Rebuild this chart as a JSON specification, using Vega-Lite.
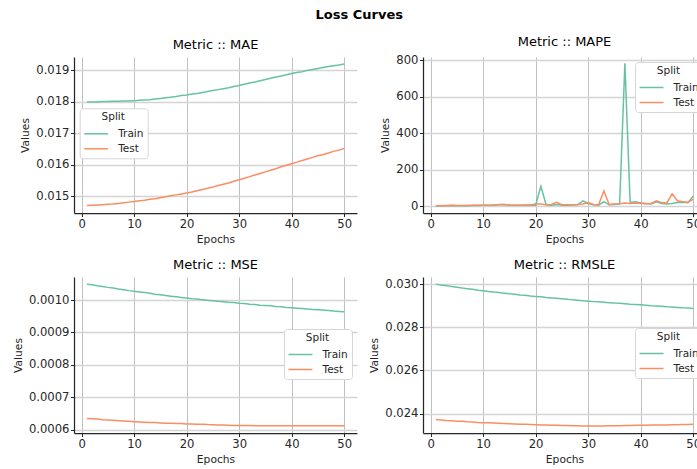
{
  "$schema": "https://vega.github.io/schema/vega-lite/v6.json",
  "padding": {"left": 12, "top": 9, "right": 0, "bottom": 5},
  "background": "white",
  "title": {"text": "Loss Curves", "fontSize": 13, "fontWeight": "bold", "anchor": "middle", "offset": 14, "color": "#000000", "font": "DejaVu Sans"},
  "datasets": {
    "loss": [
      {"metric":"MAE","epoch":1,"Train":0.01800,"Test":0.01471},
      {"metric":"MAE","epoch":2,"Train":0.01800,"Test":0.01472},
      {"metric":"MAE","epoch":3,"Train":0.01800,"Test":0.01473},
      {"metric":"MAE","epoch":4,"Train":0.01801,"Test":0.01474},
      {"metric":"MAE","epoch":5,"Train":0.01801,"Test":0.01475},
      {"metric":"MAE","epoch":6,"Train":0.01802,"Test":0.01476},
      {"metric":"MAE","epoch":7,"Train":0.01802,"Test":0.01478},
      {"metric":"MAE","epoch":8,"Train":0.01803,"Test":0.01480},
      {"metric":"MAE","epoch":9,"Train":0.01803,"Test":0.01482},
      {"metric":"MAE","epoch":10,"Train":0.01804,"Test":0.01484},
      {"metric":"MAE","epoch":11,"Train":0.01805,"Test":0.01486},
      {"metric":"MAE","epoch":12,"Train":0.01806,"Test":0.01488},
      {"metric":"MAE","epoch":13,"Train":0.01807,"Test":0.01491},
      {"metric":"MAE","epoch":14,"Train":0.01809,"Test":0.01493},
      {"metric":"MAE","epoch":15,"Train":0.01811,"Test":0.01496},
      {"metric":"MAE","epoch":16,"Train":0.01813,"Test":0.01499},
      {"metric":"MAE","epoch":17,"Train":0.01815,"Test":0.01502},
      {"metric":"MAE","epoch":18,"Train":0.01817,"Test":0.01505},
      {"metric":"MAE","epoch":19,"Train":0.01820,"Test":0.01508},
      {"metric":"MAE","epoch":20,"Train":0.01822,"Test":0.01511},
      {"metric":"MAE","epoch":21,"Train":0.01825,"Test":0.01514},
      {"metric":"MAE","epoch":22,"Train":0.01827,"Test":0.01518},
      {"metric":"MAE","epoch":23,"Train":0.01830,"Test":0.01522},
      {"metric":"MAE","epoch":24,"Train":0.01833,"Test":0.01526},
      {"metric":"MAE","epoch":25,"Train":0.01836,"Test":0.01530},
      {"metric":"MAE","epoch":26,"Train":0.01839,"Test":0.01535},
      {"metric":"MAE","epoch":27,"Train":0.01842,"Test":0.01539},
      {"metric":"MAE","epoch":28,"Train":0.01845,"Test":0.01543},
      {"metric":"MAE","epoch":29,"Train":0.01849,"Test":0.01548},
      {"metric":"MAE","epoch":30,"Train":0.01852,"Test":0.01553},
      {"metric":"MAE","epoch":31,"Train":0.01856,"Test":0.01558},
      {"metric":"MAE","epoch":32,"Train":0.01860,"Test":0.01563},
      {"metric":"MAE","epoch":33,"Train":0.01863,"Test":0.01568},
      {"metric":"MAE","epoch":34,"Train":0.01867,"Test":0.01573},
      {"metric":"MAE","epoch":35,"Train":0.01871,"Test":0.01578},
      {"metric":"MAE","epoch":36,"Train":0.01875,"Test":0.01583},
      {"metric":"MAE","epoch":37,"Train":0.01879,"Test":0.01588},
      {"metric":"MAE","epoch":38,"Train":0.01882,"Test":0.01594},
      {"metric":"MAE","epoch":39,"Train":0.01886,"Test":0.01599},
      {"metric":"MAE","epoch":40,"Train":0.01890,"Test":0.01604},
      {"metric":"MAE","epoch":41,"Train":0.01893,"Test":0.01609},
      {"metric":"MAE","epoch":42,"Train":0.01896,"Test":0.01614},
      {"metric":"MAE","epoch":43,"Train":0.01900,"Test":0.01619},
      {"metric":"MAE","epoch":44,"Train":0.01903,"Test":0.01624},
      {"metric":"MAE","epoch":45,"Train":0.01906,"Test":0.01629},
      {"metric":"MAE","epoch":46,"Train":0.01909,"Test":0.01633},
      {"metric":"MAE","epoch":47,"Train":0.01912,"Test":0.01638},
      {"metric":"MAE","epoch":48,"Train":0.01915,"Test":0.01643},
      {"metric":"MAE","epoch":49,"Train":0.01917,"Test":0.01647},
      {"metric":"MAE","epoch":50,"Train":0.01920,"Test":0.01652},
      {"metric":"MAPE","epoch":1,"Train":2,"Test":3},
      {"metric":"MAPE","epoch":2,"Train":3,"Test":3},
      {"metric":"MAPE","epoch":3,"Train":3,"Test":4},
      {"metric":"MAPE","epoch":4,"Train":4,"Test":5},
      {"metric":"MAPE","epoch":5,"Train":3,"Test":4},
      {"metric":"MAPE","epoch":6,"Train":3,"Test":4},
      {"metric":"MAPE","epoch":7,"Train":3,"Test":4},
      {"metric":"MAPE","epoch":8,"Train":4,"Test":5},
      {"metric":"MAPE","epoch":9,"Train":4,"Test":5},
      {"metric":"MAPE","epoch":10,"Train":5,"Test":6},
      {"metric":"MAPE","epoch":11,"Train":5,"Test":6},
      {"metric":"MAPE","epoch":12,"Train":6,"Test":7},
      {"metric":"MAPE","epoch":13,"Train":8,"Test":9},
      {"metric":"MAPE","epoch":14,"Train":9,"Test":10},
      {"metric":"MAPE","epoch":15,"Train":6,"Test":7},
      {"metric":"MAPE","epoch":16,"Train":5,"Test":6},
      {"metric":"MAPE","epoch":17,"Train":5,"Test":6},
      {"metric":"MAPE","epoch":18,"Train":6,"Test":7},
      {"metric":"MAPE","epoch":19,"Train":5,"Test":7},
      {"metric":"MAPE","epoch":20,"Train":6,"Test":12},
      {"metric":"MAPE","epoch":21,"Train":110,"Test":12},
      {"metric":"MAPE","epoch":22,"Train":8,"Test":8},
      {"metric":"MAPE","epoch":23,"Train":6,"Test":10},
      {"metric":"MAPE","epoch":24,"Train":10,"Test":22},
      {"metric":"MAPE","epoch":25,"Train":6,"Test":8},
      {"metric":"MAPE","epoch":26,"Train":6,"Test":8},
      {"metric":"MAPE","epoch":27,"Train":7,"Test":8},
      {"metric":"MAPE","epoch":28,"Train":8,"Test":9},
      {"metric":"MAPE","epoch":29,"Train":30,"Test":12},
      {"metric":"MAPE","epoch":30,"Train":15,"Test":20},
      {"metric":"MAPE","epoch":31,"Train":8,"Test":10},
      {"metric":"MAPE","epoch":32,"Train":6,"Test":8},
      {"metric":"MAPE","epoch":33,"Train":25,"Test":85},
      {"metric":"MAPE","epoch":34,"Train":8,"Test":10},
      {"metric":"MAPE","epoch":35,"Train":10,"Test":12},
      {"metric":"MAPE","epoch":36,"Train":12,"Test":14},
      {"metric":"MAPE","epoch":37,"Train":785,"Test":18},
      {"metric":"MAPE","epoch":38,"Train":20,"Test":15},
      {"metric":"MAPE","epoch":39,"Train":25,"Test":18},
      {"metric":"MAPE","epoch":40,"Train":18,"Test":16},
      {"metric":"MAPE","epoch":41,"Train":15,"Test":14},
      {"metric":"MAPE","epoch":42,"Train":12,"Test":15},
      {"metric":"MAPE","epoch":43,"Train":25,"Test":30},
      {"metric":"MAPE","epoch":44,"Train":15,"Test":20},
      {"metric":"MAPE","epoch":45,"Train":12,"Test":18},
      {"metric":"MAPE","epoch":46,"Train":15,"Test":68},
      {"metric":"MAPE","epoch":47,"Train":20,"Test":30},
      {"metric":"MAPE","epoch":48,"Train":22,"Test":25},
      {"metric":"MAPE","epoch":49,"Train":20,"Test":22},
      {"metric":"MAPE","epoch":50,"Train":55,"Test":38},
      {"metric":"MSE","epoch":1,"Train":0.001049,"Test":0.000635},
      {"metric":"MSE","epoch":2,"Train":0.001047,"Test":0.000634},
      {"metric":"MSE","epoch":3,"Train":0.001044,"Test":0.000633},
      {"metric":"MSE","epoch":4,"Train":0.001042,"Test":0.000631},
      {"metric":"MSE","epoch":5,"Train":0.001039,"Test":0.000630},
      {"metric":"MSE","epoch":6,"Train":0.001037,"Test":0.000629},
      {"metric":"MSE","epoch":7,"Train":0.001034,"Test":0.000628},
      {"metric":"MSE","epoch":8,"Train":0.001032,"Test":0.000627},
      {"metric":"MSE","epoch":9,"Train":0.001029,"Test":0.000626},
      {"metric":"MSE","epoch":10,"Train":0.001027,"Test":0.000625},
      {"metric":"MSE","epoch":11,"Train":0.001025,"Test":0.000624},
      {"metric":"MSE","epoch":12,"Train":0.001023,"Test":0.000623},
      {"metric":"MSE","epoch":13,"Train":0.001021,"Test":0.000622},
      {"metric":"MSE","epoch":14,"Train":0.001018,"Test":0.000622},
      {"metric":"MSE","epoch":15,"Train":0.001016,"Test":0.000621},
      {"metric":"MSE","epoch":16,"Train":0.001014,"Test":0.000620},
      {"metric":"MSE","epoch":17,"Train":0.001012,"Test":0.000620},
      {"metric":"MSE","epoch":18,"Train":0.001010,"Test":0.000619},
      {"metric":"MSE","epoch":19,"Train":0.001008,"Test":0.000619},
      {"metric":"MSE","epoch":20,"Train":0.001006,"Test":0.000618},
      {"metric":"MSE","epoch":21,"Train":0.001004,"Test":0.000618},
      {"metric":"MSE","epoch":22,"Train":0.001003,"Test":0.000617},
      {"metric":"MSE","epoch":23,"Train":0.001001,"Test":0.000617},
      {"metric":"MSE","epoch":24,"Train":0.000999,"Test":0.000616},
      {"metric":"MSE","epoch":25,"Train":0.000998,"Test":0.0006155},
      {"metric":"MSE","epoch":26,"Train":0.000996,"Test":0.000615},
      {"metric":"MSE","epoch":27,"Train":0.000995,"Test":0.0006145},
      {"metric":"MSE","epoch":28,"Train":0.000993,"Test":0.000614},
      {"metric":"MSE","epoch":29,"Train":0.000992,"Test":0.0006135},
      {"metric":"MSE","epoch":30,"Train":0.000990,"Test":0.000613},
      {"metric":"MSE","epoch":31,"Train":0.000989,"Test":0.000613},
      {"metric":"MSE","epoch":32,"Train":0.000987,"Test":0.000613},
      {"metric":"MSE","epoch":33,"Train":0.000986,"Test":0.0006125},
      {"metric":"MSE","epoch":34,"Train":0.000984,"Test":0.0006125},
      {"metric":"MSE","epoch":35,"Train":0.000983,"Test":0.000612},
      {"metric":"MSE","epoch":36,"Train":0.000982,"Test":0.000612},
      {"metric":"MSE","epoch":37,"Train":0.000980,"Test":0.000612},
      {"metric":"MSE","epoch":38,"Train":0.000979,"Test":0.000612},
      {"metric":"MSE","epoch":39,"Train":0.000977,"Test":0.000612},
      {"metric":"MSE","epoch":40,"Train":0.000976,"Test":0.000612},
      {"metric":"MSE","epoch":41,"Train":0.000975,"Test":0.000612},
      {"metric":"MSE","epoch":42,"Train":0.000974,"Test":0.000612},
      {"metric":"MSE","epoch":43,"Train":0.000972,"Test":0.000612},
      {"metric":"MSE","epoch":44,"Train":0.000971,"Test":0.000612},
      {"metric":"MSE","epoch":45,"Train":0.000970,"Test":0.000612},
      {"metric":"MSE","epoch":46,"Train":0.000969,"Test":0.000612},
      {"metric":"MSE","epoch":47,"Train":0.000968,"Test":0.000612},
      {"metric":"MSE","epoch":48,"Train":0.000966,"Test":0.000612},
      {"metric":"MSE","epoch":49,"Train":0.000965,"Test":0.000612},
      {"metric":"MSE","epoch":50,"Train":0.000964,"Test":0.000612},
      {"metric":"RMSLE","epoch":1,"Train":0.03000,"Test":0.02372},
      {"metric":"RMSLE","epoch":2,"Train":0.02996,"Test":0.02370},
      {"metric":"RMSLE","epoch":3,"Train":0.02993,"Test":0.02368},
      {"metric":"RMSLE","epoch":4,"Train":0.02989,"Test":0.02367},
      {"metric":"RMSLE","epoch":5,"Train":0.02986,"Test":0.02365},
      {"metric":"RMSLE","epoch":6,"Train":0.02982,"Test":0.02364},
      {"metric":"RMSLE","epoch":7,"Train":0.02979,"Test":0.02362},
      {"metric":"RMSLE","epoch":8,"Train":0.02976,"Test":0.02361},
      {"metric":"RMSLE","epoch":9,"Train":0.02972,"Test":0.02359},
      {"metric":"RMSLE","epoch":10,"Train":0.02969,"Test":0.02358},
      {"metric":"RMSLE","epoch":11,"Train":0.02966,"Test":0.02357},
      {"metric":"RMSLE","epoch":12,"Train":0.02963,"Test":0.02356},
      {"metric":"RMSLE","epoch":13,"Train":0.02961,"Test":0.02355},
      {"metric":"RMSLE","epoch":14,"Train":0.02958,"Test":0.02354},
      {"metric":"RMSLE","epoch":15,"Train":0.02955,"Test":0.02353},
      {"metric":"RMSLE","epoch":16,"Train":0.02953,"Test":0.02352},
      {"metric":"RMSLE","epoch":17,"Train":0.02950,"Test":0.02351},
      {"metric":"RMSLE","epoch":18,"Train":0.02948,"Test":0.02350},
      {"metric":"RMSLE","epoch":19,"Train":0.02945,"Test":0.02349},
      {"metric":"RMSLE","epoch":20,"Train":0.02943,"Test":0.02348},
      {"metric":"RMSLE","epoch":21,"Train":0.02941,"Test":0.023475},
      {"metric":"RMSLE","epoch":22,"Train":0.02938,"Test":0.02347},
      {"metric":"RMSLE","epoch":23,"Train":0.02936,"Test":0.02346},
      {"metric":"RMSLE","epoch":24,"Train":0.02934,"Test":0.023455},
      {"metric":"RMSLE","epoch":25,"Train":0.02932,"Test":0.02345},
      {"metric":"RMSLE","epoch":26,"Train":0.02930,"Test":0.023445},
      {"metric":"RMSLE","epoch":27,"Train":0.02927,"Test":0.02344},
      {"metric":"RMSLE","epoch":28,"Train":0.02925,"Test":0.023435},
      {"metric":"RMSLE","epoch":29,"Train":0.02923,"Test":0.02343},
      {"metric":"RMSLE","epoch":30,"Train":0.02921,"Test":0.02343},
      {"metric":"RMSLE","epoch":31,"Train":0.02919,"Test":0.02343},
      {"metric":"RMSLE","epoch":32,"Train":0.02918,"Test":0.02343},
      {"metric":"RMSLE","epoch":33,"Train":0.02916,"Test":0.02343},
      {"metric":"RMSLE","epoch":34,"Train":0.02914,"Test":0.023435},
      {"metric":"RMSLE","epoch":35,"Train":0.02912,"Test":0.02344},
      {"metric":"RMSLE","epoch":36,"Train":0.02911,"Test":0.02344},
      {"metric":"RMSLE","epoch":37,"Train":0.02909,"Test":0.023445},
      {"metric":"RMSLE","epoch":38,"Train":0.02907,"Test":0.02345},
      {"metric":"RMSLE","epoch":39,"Train":0.02906,"Test":0.023455},
      {"metric":"RMSLE","epoch":40,"Train":0.02904,"Test":0.02346},
      {"metric":"RMSLE","epoch":41,"Train":0.02902,"Test":0.02346},
      {"metric":"RMSLE","epoch":42,"Train":0.02900,"Test":0.023465},
      {"metric":"RMSLE","epoch":43,"Train":0.02899,"Test":0.02347},
      {"metric":"RMSLE","epoch":44,"Train":0.02897,"Test":0.02347},
      {"metric":"RMSLE","epoch":45,"Train":0.02895,"Test":0.023475},
      {"metric":"RMSLE","epoch":46,"Train":0.02894,"Test":0.02348},
      {"metric":"RMSLE","epoch":47,"Train":0.02892,"Test":0.023485},
      {"metric":"RMSLE","epoch":48,"Train":0.02890,"Test":0.02349},
      {"metric":"RMSLE","epoch":49,"Train":0.02889,"Test":0.023495},
      {"metric":"RMSLE","epoch":50,"Train":0.02887,"Test":0.02350}
    ]
  },
  "data": {"name": "loss"},
  "transform": [{"fold": ["Train", "Test"], "as": ["split", "value"]}],
  "columns": 2,
  "spacing": {"row": 15, "column": 11},
  "concat": [
    {
      "title": {"text": "Metric :: MAE", "fontSize": 13, "fontWeight": "normal", "color": "#000000", "font": "DejaVu Sans", "offset": 5},
      "width": 283, "height": 156,
      "transform": [{"filter": "datum.metric === 'MAE'"}],
      "mark": {"type": "line", "strokeWidth": 1.5},
      "encoding": {
        "x": {"field": "epoch", "type": "quantitative", "title": "Epochs", "scale": {"domain": [-1.45, 52.45], "nice": false, "zero": false}, "axis": {"values": [0, 10, 20, 30, 40, 50]}},
        "y": {"field": "value", "type": "quantitative", "title": "Values", "scale": {"domain": [0.014475, 0.019425], "nice": false, "zero": false}, "axis": {"values": [0.015, 0.016, 0.017, 0.018, 0.019], "format": ".3f"}},
        "color": {"field": "split", "type": "nominal", "title": "Split", "sort": ["Train", "Test"], "scale": {"domain": ["Train", "Test"], "range": ["#66c2a5", "#fc8d62"]}, "legend": {"orient": "none", "legendX": 5.7, "legendY": 51.3}}
      }
    },
    {
      "title": {"text": "Metric :: MAPE", "fontSize": 13, "fontWeight": "normal", "color": "#000000", "font": "DejaVu Sans", "offset": 5},
      "width": 283, "height": 156,
      "transform": [{"filter": "datum.metric === 'MAPE'"}],
      "mark": {"type": "line", "strokeWidth": 1.5},
      "encoding": {
        "x": {"field": "epoch", "type": "quantitative", "title": "Epochs", "scale": {"domain": [-1.45, 52.45], "nice": false, "zero": false}, "axis": {"values": [0, 10, 20, 30, 40, 50]}},
        "y": {"field": "value", "type": "quantitative", "title": "Values", "scale": {"domain": [-37, 819], "nice": false, "zero": false}, "axis": {"values": [0, 200, 400, 600, 800], "format": "d"}},
        "color": {"field": "split", "type": "nominal", "title": "Split", "sort": ["Train", "Test"], "scale": {"domain": ["Train", "Test"], "range": ["#66c2a5", "#fc8d62"]}, "legend": {"orient": "none", "legendX": 212, "legendY": 5}}
      }
    },
    {
      "title": {"text": "Metric :: MSE", "fontSize": 13, "fontWeight": "normal", "color": "#000000", "font": "DejaVu Sans", "offset": 5},
      "width": 283, "height": 156,
      "transform": [{"filter": "datum.metric === 'MSE'"}],
      "mark": {"type": "line", "strokeWidth": 1.5},
      "encoding": {
        "x": {"field": "epoch", "type": "quantitative", "title": "Epochs", "scale": {"domain": [-1.45, 52.45], "nice": false, "zero": false}, "axis": {"values": [0, 10, 20, 30, 40, 50]}},
        "y": {"field": "value", "type": "quantitative", "title": "Values", "scale": {"domain": [0.00059, 0.001071], "nice": false, "zero": false}, "axis": {"values": [0.0006, 0.0007, 0.0008, 0.0009, 0.001], "format": ".4f"}},
        "color": {"field": "split", "type": "nominal", "title": "Split", "sort": ["Train", "Test"], "scale": {"domain": ["Train", "Test"], "range": ["#66c2a5", "#fc8d62"]}, "legend": {"orient": "none", "legendX": 210, "legendY": 52}}
      }
    },
    {
      "title": {"text": "Metric :: RMSLE", "fontSize": 13, "fontWeight": "normal", "color": "#000000", "font": "DejaVu Sans", "offset": 5},
      "width": 283, "height": 156,
      "transform": [{"filter": "datum.metric === 'RMSLE'"}],
      "mark": {"type": "line", "strokeWidth": 1.5},
      "encoding": {
        "x": {"field": "epoch", "type": "quantitative", "title": "Epochs", "scale": {"domain": [-1.45, 52.45], "nice": false, "zero": false}, "axis": {"values": [0, 10, 20, 30, 40, 50]}},
        "y": {"field": "value", "type": "quantitative", "title": "Values", "scale": {"domain": [0.0231, 0.03033], "nice": false, "zero": false}, "axis": {"values": [0.024, 0.026, 0.028, 0.03], "format": ".3f"}},
        "color": {"field": "split", "type": "nominal", "title": "Split", "sort": ["Train", "Test"], "scale": {"domain": ["Train", "Test"], "range": ["#66c2a5", "#fc8d62"]}, "legend": {"orient": "none", "legendX": 212, "legendY": 51}}
      }
    }
  ],
  "resolve": {"scale": {"x": "independent", "y": "independent", "color": "independent"}, "axis": {"x": "independent", "y": "independent"}, "legend": {"color": "independent"}},
  "config": {
    "font": "DejaVu Sans",
    "view": {"stroke": null},
    "axis": {
      "labelFont": "DejaVu Sans", "labelFontSize": 11.6, "labelColor": "#262626", "labelPadding": 1.5,
      "titleFont": "DejaVu Sans", "titleFontSize": 10.7, "titleFontWeight": "normal", "titleColor": "#262626",
      "domainColor": "#262626", "domainWidth": 1.25, "tickColor": "#262626", "tickSize": 3.5, "tickWidth": 1,
      "gridColor": "#b0b0b0", "gridWidth": 0.8
    },
    "axisX": {"titlePadding": 4, "labelFlush": false, "labelPadding": 2},
    "axisY": {"gridColor": "#d4d4d4", "gridWidth": 1.5, "titlePadding": 5, "labelFlush": false},
    "legend": {
      "titleFont": "DejaVu Sans", "titleFontSize": 10.5, "titleFontWeight": "normal", "titleColor": "#262626", "titleAnchor": "middle", "titlePadding": 2.5,
      "labelFont": "DejaVu Sans", "labelFontSize": 10.5, "labelColor": "#262626", "labelOffset": 17,
      "symbolType": "M-1,0H2", "symbolSize": 256, "symbolStrokeWidth": 1.5, "rowPadding": 0,
      "fillColor": "white", "strokeColor": "#d6d6d6", "cornerRadius": 3, "padding": 3.5
    }
  }
}
